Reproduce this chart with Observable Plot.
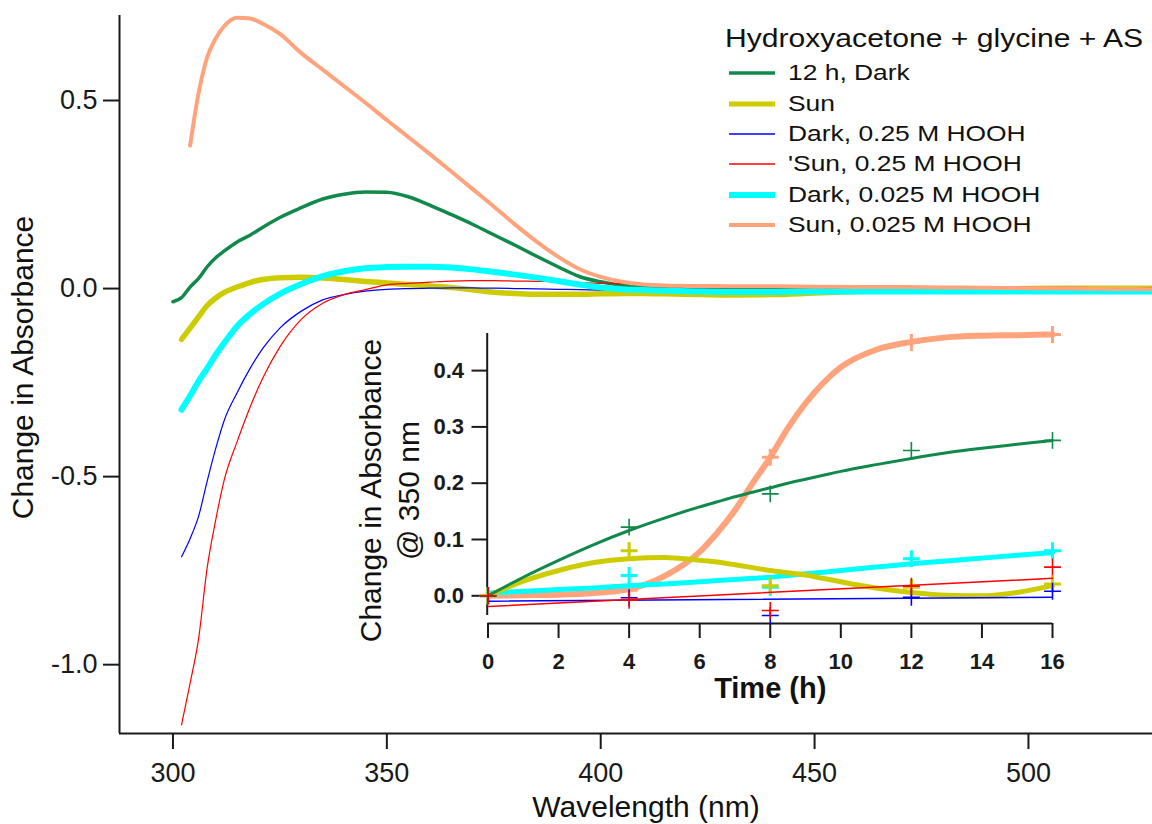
<!DOCTYPE html>
<html>
<head>
<meta charset="utf-8">
<script src="https://cdn.jsdelivr.net/npm/d3@7"></script>
<script src="https://cdn.jsdelivr.net/npm/@observablehq/plot@0.6"></script>
<style>
  body { margin: 0; background: #fff; }
  #wrap { position: relative; width: 1152px; height: 824px; overflow: hidden;
          font-family: "Liberation Sans", Arial, Helvetica, sans-serif; color: #111; }
  #wrap svg g[aria-label$="-axis tick"] { stroke-width: 2px; stroke: #1a1a1a; }
  #inset { position: absolute; left: 340px; top: 320px; }
  #legend { position: absolute; left: 729px; top: 23px; }
  .lg-title { height: 30px; line-height: 30px; font-size: 25.5px; margin-left: -4px;
              white-space: nowrap; transform: scaleX(1.18); transform-origin: 0 50%; }
  .lg-rows { margin-top: 5px; }
  .lg-row { display: flex; align-items: center; height: 30.4px; }
  .lg-row svg { width: 46px; height: 30px; flex: none; }
  .lg-row span { display: inline-block; margin-left: 13px; font-size: 22px; line-height: 30px;
                 white-space: nowrap; transform: scaleX(1.2); transform-origin: 0 50%; }
</style>
</head>
<body>
<div id="wrap"></div>
<script>
// ---------- Spectra: change in absorbance vs wavelength ----------
const wavelength = [300,302,304,306,308,310,312,315,318,321,325,330,335,340,345,350,355,360,365,370,
                    375,380,385,390,395,400,405,410,415,420,430,440,450,460,470,480,490,500,510,520,530];

const specDark12h = [-0.035,-0.024,0.004,0.027,0.058,0.082,0.100,0.124,0.142,0.163,0.189,0.215,0.238,0.251,0.257,0.256,0.244,0.222,0.197,0.171,
                     0.143,0.115,0.086,0.058,0.032,0.018,0.009,0.005,0.003,0.002,0.001,0.000,0.000,-0.001,-0.001,-0.001,-0.002,-0.002,-0.002,-0.002,-0.002];
const specSun = [null,-0.135,-0.105,-0.075,-0.045,-0.025,-0.010,0.004,0.016,0.024,0.029,0.030,0.028,0.024,0.019,0.015,0.011,0.007,0.003,-0.003,
                 -0.010,-0.013,-0.015,-0.015,-0.015,-0.014,-0.013,-0.013,-0.014,-0.015,-0.017,-0.016,-0.012,-0.008,-0.005,-0.003,-0.001,0.000,0.001,0.001,0.001];
const specDarkHigh = [null,-0.713,-0.665,-0.605,-0.512,-0.425,-0.350,-0.277,-0.213,-0.159,-0.105,-0.060,-0.030,-0.016,-0.007,-0.002,0.000,0.001,0.002,0.002,
                      0.001,0.000,-0.001,-0.002,-0.003,-0.004,-0.005,-0.005,-0.005,-0.005,-0.005,-0.005,-0.005,-0.005,-0.005,-0.005,-0.005,-0.005,-0.005,-0.005,-0.005];
const specSunHigh = [null,-1.160,-1.050,-0.930,-0.742,-0.615,-0.508,-0.407,-0.316,-0.238,-0.155,-0.082,-0.039,-0.016,-0.003,0.010,0.014,0.017,0.020,0.021,
                     0.021,0.020,0.019,0.018,0.016,0.014,0.013,0.012,0.010,0.009,0.008,0.007,0.006,0.005,0.005,0.004,0.004,0.003,0.003,0.002,0.002];
const specDarkLow = [null,-0.322,-0.285,-0.246,-0.212,-0.176,-0.144,-0.100,-0.068,-0.042,-0.014,0.012,0.033,0.046,0.054,0.057,0.058,0.058,0.056,0.051,
                     0.044,0.037,0.029,0.020,0.011,0.003,-0.002,-0.004,-0.006,-0.007,-0.009,-0.009,-0.008,-0.008,-0.008,-0.008,-0.008,-0.008,-0.008,-0.008,-0.008];
const specSunLow = [null,null,0.380,0.520,0.615,0.665,0.698,0.720,0.718,0.704,0.677,0.626,0.582,0.538,0.494,0.448,0.403,0.358,0.312,0.265,
                    0.218,0.170,0.125,0.085,0.052,0.031,0.018,0.011,0.008,0.007,0.006,0.006,0.005,0.004,0.004,0.003,0.002,0.001,0.000,-0.001,-0.002];

// ---------- Inset: change in absorbance at 350 nm vs time ----------
const sampleHours = [0, 4, 8, 12, 16];
const obsDark12h   = [0, 0.122, 0.181, 0.258, 0.276];
const obsSun       = [0, 0.080, 0.018, 0.015, 0.021];
const obsDarkHigh  = [0, -0.0035, -0.035, -0.0025, 0.008];
const obsSunHigh   = [0, -0.008, -0.026, 0.017, 0.051];
const obsDarkLow   = [0, 0.036, 0.015, 0.066, 0.080];
const obsSunLow    = [0, 0.010, 0.246, 0.450, 0.464];

const fitHours = [0,1,2,3,4,5,6,6.5,7,7.5,8,8.5,9,9.5,10,11,12,13,14,15,16];
const fitDark12h = [0,0.033,0.063,0.091,0.116,0.138,0.158,0.167,0.176,0.184,0.192,0.200,0.207,0.214,0.221,0.233,0.244,0.254,0.262,0.269,0.276];
const fitSun     = [0,0.026,0.045,0.059,0.066,0.068,0.063,0.060,0.055,0.050,0.045,0.041,0.037,0.031,0.025,0.014,0.006,0.001,0.000,0.006,0.018];
const fitDarkLow = [0.005,0.008,0.011,0.014,0.018,0.021,0.025,0.027,0.029,0.031,0.033,0.036,0.039,0.042,0.045,0.051,0.057,0.062,0.067,0.072,0.077];
const fitSunLow  = [0,0.001,0.002,0.005,0.012,0.035,0.078,0.112,0.152,0.200,0.246,0.298,0.342,0.378,0.406,0.437,0.451,0.459,0.462,0.463,0.464];
const lineHours   = [0, 16];
const fitDarkHigh = [-0.0095, -0.0025];
const fitSunHigh  = [-0.019, 0.031];

// ---------- Labels, ticks, series styling ----------
const legendTitle = "Hydroxyacetone + glycine + AS";
const seriesNames = ["12 h, Dark", "Sun", "Dark, 0.25 M HOOH", "'Sun, 0.25 M HOOH", "Dark, 0.025 M HOOH", "Sun, 0.025 M HOOH"];
const seriesColors = ["#10894a", "#cccc00", "#0000ff", "#ff0000", "#00ffff", "#ffa37d"];
const spectrumWidths = [3.5, 5.5, 1.2, 1.2, 6, 4];
const legendWidths = [3.5, 5, 1.5, 1.5, 6, 4];
const insetWidths = [3, 5, 1.5, 1.5, 5, 6];
const markerWidths = [1.6, 3, 1.6, 1.6, 3, 3];

const nmTicks = [300, 350, 400, 450, 500];
const absTicks = [-1.0, -0.5, 0.0, 0.5];
const hourTicks = [0, 2, 4, 6, 8, 10, 12, 14, 16];
const insetAbsTicks = [0.0, 0.1, 0.2, 0.3, 0.4];
const xTitle = "Wavelength (nm)";
const yTitle = "Change in Absorbance";
const insetXTitle = "Time (h)";
const insetYTitle = "Change in Absorbance\n@ 350 nm";

const nmDomain = [287.5, 529];
const absDomain = [-1.183, 0.726];
const hourDomain = [0, 16];
const insetAbsDomain = [-0.0492, 0.4659];
const insetAxisExtent = [-0.035, 0.466];

// ---------- Build tidy tables ----------
const spectra = [specDark12h, specSun, specDarkHigh, specSunHigh, specDarkLow, specSunLow];
const fits = [[fitHours, fitDark12h], [fitHours, fitSun], [lineHours, fitDarkHigh],
              [lineHours, fitSunHigh], [fitHours, fitDarkLow], [fitHours, fitSunLow]];
const obs = [obsDark12h, obsSun, obsDarkHigh, obsSunHigh, obsDarkLow, obsSunLow];

const spectrumRows = spectra.map(vals =>
  wavelength.map((w, i) => ({w, v: vals[i]})).filter(d => d.v != null));
const fitRows = fits.map(([t, v]) => t.map((h, i) => ({h, v: v[i]})));
const obsRows = obs.map(v => sampleHours.map((h, i) => ({h, v: v[i]})));

const font = '"Liberation Sans", Arial, Helvetica, sans-serif';
const fmt1 = d => d.toFixed(1);
const wrap = document.getElementById("wrap");

// ---------- Main spectra plot ----------
const mainMarks = [
  // frame: left and bottom axis lines
  Plot.ruleX([{w: nmDomain[0]}], {x: d => d.w, stroke: "#1a1a1a", strokeWidth: 2}),
  Plot.ruleY([{v: absDomain[0]}], {y: d => d.v, stroke: "#1a1a1a", strokeWidth: 2}),
  Plot.axisY({ticks: absTicks, tickFormat: fmt1, tickSize: 16, tickPadding: 6, fontSize: 27, label: null}),
  Plot.axisX({ticks: nmTicks, tickFormat: d => String(d), tickSize: 16, tickPadding: 13, fontSize: 27, label: null})
];
// drawing order follows the legend, the last series on top
spectrumRows.forEach((rows, k) => {
  mainMarks.push(Plot.line(rows, {x: "w", y: "v", stroke: seriesColors[k], strokeWidth: spectrumWidths[k],
                                  curve: "monotone-x", clip: true}));
});
mainMarks.push(
  Plot.text([xTitle], {text: d => d, frameAnchor: "bottom", dx: 10, dy: 74, lineAnchor: "middle",
                       textAnchor: "middle", fontSize: 30, fill: "#111"}),
  Plot.text([yTitle], {text: d => d, frameAnchor: "left", rotate: -90, dx: -96, dy: -7, lineAnchor: "middle",
                       textAnchor: "middle", fontSize: 30, fill: "#111"})
);

const main = Plot.plot({
  width: 1152, height: 824,
  marginLeft: 119, marginRight: 0, marginTop: 15, marginBottom: 91,
  style: {fontFamily: font, background: "white", color: "#1a1a1a"},
  x: {domain: nmDomain},
  y: {domain: absDomain},
  marks: mainMarks
});
wrap.appendChild(main);

// ---------- Inset kinetics plot ----------
const insetOrder = [5, 4, 1, 0, 2, 3];
const insetMarks = [
  Plot.ruleX([{h: hourDomain[0], lo: insetAxisExtent[0], hi: insetAxisExtent[1]}],
             {x: d => d.h, y1: d => d.lo, y2: d => d.hi, dx: -0.8, stroke: "#1a1a1a", strokeWidth: 2}),
  Plot.ruleY([{v: insetAbsDomain[0]}], {y: d => d.v, stroke: "#1a1a1a", strokeWidth: 2}),
  Plot.axisY({ticks: insetAbsTicks, tickFormat: fmt1, tickSize: 16, tickPadding: 8, fontSize: 22,
              fontWeight: "bold", label: null}),
  Plot.axisX({ticks: hourTicks, tickFormat: d => String(d), tickSize: 15, tickPadding: 15, fontSize: 22,
              fontWeight: "bold", label: null})
];
insetOrder.forEach(k => {
  insetMarks.push(
    Plot.line(fitRows[k], {x: "h", y: "v", stroke: seriesColors[k], strokeWidth: insetWidths[k], curve: "monotone-x"}),
    Plot.dot(obsRows[k], {x: "h", y: "v", symbol: "plus", r: 5.5, fill: "none",
                          stroke: seriesColors[k], strokeWidth: markerWidths[k]})
  );
});
insetMarks.push(
  Plot.text([insetXTitle], {text: d => d, frameAnchor: "bottom", dy: 65.5, lineAnchor: "middle",
                            textAnchor: "middle", fontSize: 29, fontWeight: "bold", fill: "#111"}),
  Plot.text([insetYTitle], {text: d => d, frameAnchor: "left", rotate: -90, dx: -100, dy: 12,
                            lineAnchor: "middle", textAnchor: "middle", lineHeight: 1.257, fontSize: 30, fill: "#111"})
);

const inset = Plot.plot({
  width: 760, height: 400,
  marginLeft: 147.5, marginRight: 48, marginTop: 13, marginBottom: 97,
  style: {fontFamily: font, background: "transparent", color: "#1a1a1a", overflow: "visible"},
  x: {domain: hourDomain},
  y: {domain: insetAbsDomain},
  marks: insetMarks
});
inset.id = "inset";
wrap.appendChild(inset);

// ---------- Legend ----------
const legend = document.createElement("div");
legend.id = "legend";
const title = document.createElement("div");
title.className = "lg-title";
title.textContent = legendTitle;
legend.appendChild(title);
const rowsBox = document.createElement("div");
rowsBox.className = "lg-rows";
seriesNames.forEach((name, k) => {
  const row = document.createElement("div");
  row.className = "lg-row";
  const ns = "http://www.w3.org/2000/svg";
  const sw = document.createElementNS(ns, "svg");
  sw.setAttribute("viewBox", "0 0 46 30");
  const ln = document.createElementNS(ns, "line");
  ln.setAttribute("x1", 0); ln.setAttribute("x2", 46);
  ln.setAttribute("y1", 15); ln.setAttribute("y2", 15);
  ln.setAttribute("stroke", seriesColors[k]);
  ln.setAttribute("stroke-width", legendWidths[k]);
  sw.appendChild(ln);
  const label = document.createElement("span");
  label.textContent = name;
  row.appendChild(sw);
  row.appendChild(label);
  rowsBox.appendChild(row);
});
legend.appendChild(rowsBox);
wrap.appendChild(legend);
</script>
</body>
</html>
